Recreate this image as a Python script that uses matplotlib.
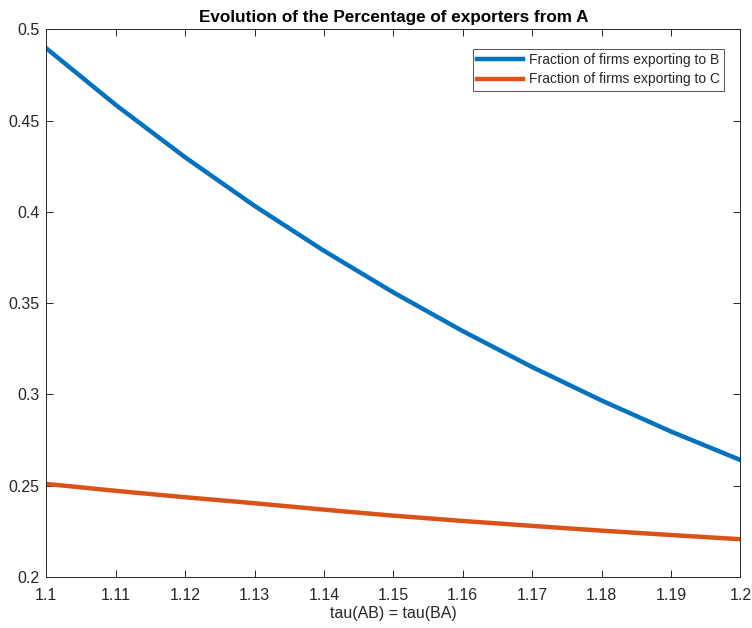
import numpy as np
import matplotlib.pyplot as plt

# data
tau = [1.10, 1.11, 1.12, 1.13, 1.14, 1.15, 1.16, 1.17, 1.18, 1.19, 1.20]
frac_B = [0.4896, 0.4586, 0.4299, 0.4033, 0.3787, 0.3559, 0.3347, 0.3150, 0.2967, 0.2797, 0.2641]
frac_C = [0.2510, 0.2472, 0.2437, 0.2404, 0.2369, 0.2336, 0.2307, 0.2280, 0.2254, 0.2230, 0.2207]

plt.rcParams['font.family'] = ['Liberation Sans', 'DejaVu Sans']
grey = '#262626'

fig = plt.figure(figsize=(7.52, 6.28), dpi=100)
ax = fig.add_axes([0.0616, 0.0812, 0.9229, 0.8721])

ax.plot(tau, frac_B, color='#0072BD', lw=3.2, label='Fraction of firms exporting to B')
ax.plot(tau, frac_C, color='#D95319', lw=3.2, label='Fraction of firms exporting to C')

ax.set_xlim(1.1, 1.2)
ax.set_ylim(0.2, 0.5)
ax.set_xticks(np.arange(1.1, 1.2001, 0.01))
ax.set_xticklabels(['1.1', '1.11', '1.12', '1.13', '1.14', '1.15', '1.16', '1.17', '1.18', '1.19', '1.2'])
ax.set_yticks(np.arange(0.2, 0.5001, 0.05))
ax.set_yticklabels(['0.2', '0.25', '0.3', '0.35', '0.4', '0.45', '0.5'])
ax.tick_params(direction='in', top=True, right=True, length=5, width=0.7,
               colors=grey, labelsize=11.5)
ax.tick_params(axis='x', pad=8)
ax.tick_params(axis='y', pad=5)
for s in ax.spines.values():
    s.set_color(grey)
    s.set_linewidth(0.7)

ax.set_xlabel('tau(AB) = tau(BA)', fontsize=11.5, color=grey, labelpad=2)
ax.set_title('Evolution of the Percentage of exporters from A', fontsize=12.3,
             fontweight='bold', color='black', pad=5)

leg = ax.legend(loc='upper right', bbox_to_anchor=(0.9765, 0.964), borderaxespad=0,
                fontsize=10, frameon=True, fancybox=False, edgecolor=grey,
                handlelength=3.3, borderpad=0.3, labelspacing=0.38, handletextpad=0.4)
leg.get_frame().set_linewidth(0.7)
for t in leg.get_texts():
    t.set_color(grey)

fig.savefig('out.png', dpi=100)
